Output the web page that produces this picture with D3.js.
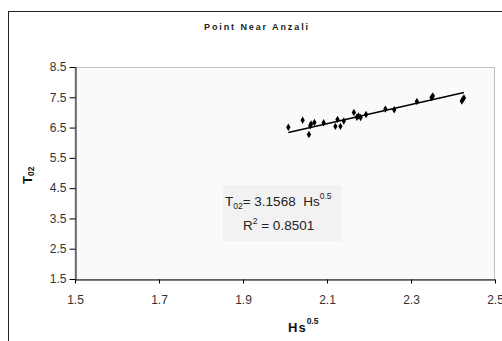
<!DOCTYPE html>
<html>
<head>
<meta charset="utf-8">
<script src="https://cdn.jsdelivr.net/npm/d3@7"></script>
<style>
  body { margin: 0; background: #fff; }
  svg { display: block; font-family: "Liberation Sans", Arial, sans-serif; }
</style>
</head>
<body>
<div id="chart"></div>
<script>
// Hs^0.5 vs T02 readings
const hsRoot = [2.008, 2.042, 2.057, 2.060, 2.062, 2.070, 2.092, 2.120, 2.132, 2.125, 2.140,
                2.164, 2.171, 2.175, 2.180, 2.193, 2.239, 2.260, 2.314, 2.349, 2.352, 2.421, 2.424, 2.426]
const t02 = [6.51, 6.74, 6.27, 6.56, 6.62, 6.67, 6.66, 6.54, 6.54, 6.77, 6.72,
             7.00, 6.84, 6.88, 6.83, 6.93, 7.11, 7.09, 7.36, 7.49, 7.54, 7.38, 7.44, 7.48]
const slope = 3.1568
const xTicks = [1.5, 1.7, 1.9, 2.1, 2.3, 2.5]
const yTicks = [1.5, 2.5, 3.5, 4.5, 5.5, 6.5, 7.5, 8.5]

const width = 502, height = 341
const plot = { left: 75, right: 495, top: 67, bottom: 279 }
const font = '"Liberation Sans", Arial, sans-serif'

const svg = d3.select('#chart').append('svg')
    .attr('width', width)
    .attr('height', height)

// outer chart frame (runs off the right / bottom)
svg.append('rect')
    .attr('x', 8.5).attr('y', 11.5)
    .attr('width', 520).attr('height', 360)
    .attr('fill', 'none')
    .attr('stroke', '#222')
    .attr('stroke-width', 1)

const x = d3.scaleLinear().domain([1.5, 2.5]).range([plot.left, plot.right])
const y = d3.scaleLinear().domain([1.5, 8.5]).range([plot.bottom, plot.top])

// plot area
svg.append('rect')
    .attr('x', plot.left).attr('y', plot.top + 0.5)
    .attr('width', plot.right - plot.left - 0.5)
    .attr('height', plot.bottom - plot.top)
    .attr('fill', '#fafafa')
    .attr('stroke', '#c0c0c0')
    .attr('stroke-width', 1)

svg.append('text')
    .attr('x', 257).attr('y', 30)
    .attr('text-anchor', 'middle')
    .style('font-size', '9px')
    .style('font-weight', 'bold')
    .style('letter-spacing', '1.9px')
    .attr('fill', '#222')
    .text('Point Near Anzali')

const xAxis = svg.append('g')
    .attr('transform', 'translate(0,' + (plot.bottom + 0.5) + ')')
    .call(d3.axisBottom(x).tickValues(xTicks).tickFormat(d3.format('.1f'))
        .tickSizeInner(4).tickSizeOuter(0).tickPadding(12))
xAxis.select('.domain').attr('stroke', '#000')
xAxis.selectAll('line').attr('stroke', '#000')
xAxis.selectAll('text').style('font-size', '12px').attr('fill', '#333')
    .style('font-family', font)

const yAxis = svg.append('g')
    .attr('transform', 'translate(' + (plot.left + 0.5) + ',0)')
    .call(d3.axisLeft(y).tickValues(yTicks).tickFormat(d3.format('.1f'))
        .tickSizeInner(6).tickSizeOuter(0).tickPadding(3))
yAxis.select('.domain').attr('stroke', '#000')
yAxis.selectAll('line').attr('stroke', '#000')
yAxis.selectAll('text').style('font-size', '12px').attr('fill', '#333')
    .style('font-family', font)

// axis titles
const xl = svg.append('text')
    .attr('x', 288).attr('y', 332)
    .style('font-size', '13px').style('font-weight', 'bold')
    .style('letter-spacing', '1px')
    .attr('fill', '#111')
xl.append('tspan').text('Hs')
xl.append('tspan').attr('dy', -8).style('font-size', '8.5px').style('letter-spacing', '0px').text('0.5')

const yl = svg.append('text')
    .attr('transform', 'translate(32,184) rotate(-90)')
    .style('font-size', '13px').style('font-weight', 'bold')
    .attr('fill', '#111')
yl.append('tspan').text('T')
yl.append('tspan').attr('dy', 2).style('font-size', '8.5px').text('02')

// fitted line through origin, drawn over the data span
const [xMin, xMax] = d3.extent(hsRoot)
svg.append('line')
    .attr('x1', x(xMin)).attr('y1', y(slope * xMin))
    .attr('x2', x(xMax)).attr('y2', y(slope * xMax))
    .attr('stroke', '#000')
    .attr('stroke-width', 1.5)

svg.append('g').selectAll('path')
    .data(hsRoot.map((h, i) => [h, t02[i]]))
    .join('path')
    .attr('d', d3.symbol(d3.symbolDiamond, 16))
    .attr('transform', d => 'translate(' + x(d[0]) + ',' + y(d[1]) + ')')
    .attr('fill', '#000')

// equation box
svg.append('rect')
    .attr('x', 223).attr('y', 185)
    .attr('width', 119).attr('height', 56)
    .attr('fill', '#f2f2f2')

const eq = svg.append('text')
    .attr('x', 225).attr('y', 206)
    .style('font-size', '13.5px')
    .style('white-space', 'pre')
    .attr('fill', '#222')
eq.append('tspan').text('T')
eq.append('tspan').attr('dy', 3).style('font-size', '8.5px').text('02')
eq.append('tspan').attr('dy', -3).text('= 3.1568  Hs')
eq.append('tspan').attr('dy', -7).style('font-size', '8.5px').text('0.5')

const r2 = svg.append('text')
    .attr('x', 243).attr('y', 230)
    .style('font-size', '13.5px')
    .attr('fill', '#222')
r2.append('tspan').text('R')
r2.append('tspan').attr('dy', -6).style('font-size', '8.5px').text('2')
r2.append('tspan').attr('dy', 6).text(' = 0.8501')
</script>
</body>
</html>
